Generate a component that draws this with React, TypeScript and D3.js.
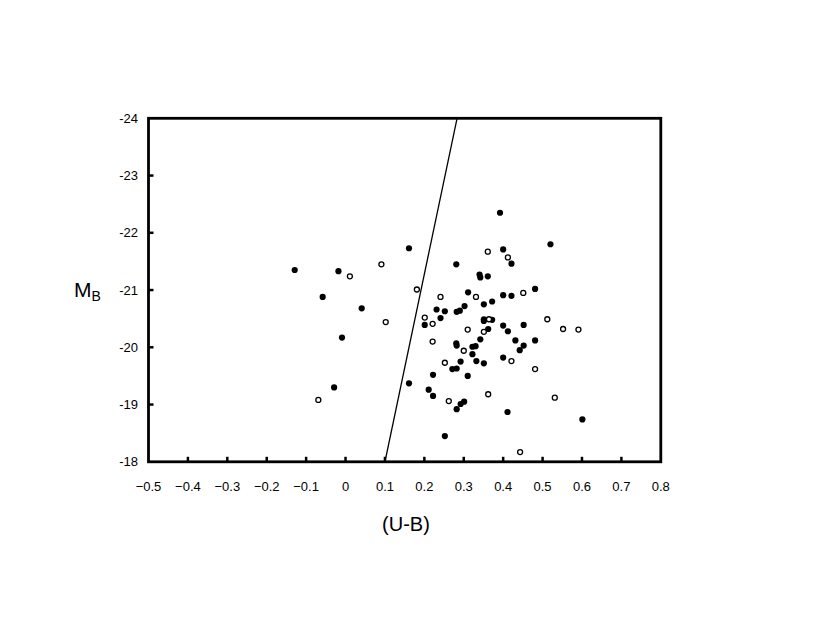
import React from "react";
import * as d3 from "d3";

const filledX = [-0.129, -0.018, -0.058, 0.041, -0.009, -0.029,
  0.161, 0.392, 0.400, 0.281, 0.340, 0.342, 0.361, 0.311, 0.400, 0.421, 0.520, 0.481, 0.421,
  0.372, 0.231, 0.252, 0.282, 0.290, 0.302, 0.351, 0.241, 0.201, 0.351, 0.351, 0.372, 0.362, 0.400,
  0.281, 0.282, 0.342, 0.330, 0.322, 0.322, 0.332, 0.351, 0.400, 0.292, 0.271, 0.282, 0.310, 0.222,
  0.161, 0.211, 0.222, 0.412, 0.452, 0.431, 0.481, 0.452, 0.442,
  0.301, 0.292, 0.282, 0.411, 0.601, 0.252];
const filledY = [-21.35, -21.33, -20.88, -20.68, -20.17, -19.30,
  -21.73, -22.35, -21.71, -21.45, -21.27, -21.22, -21.24, -20.96, -20.91, -21.46, -21.80, -21.02, -20.90,
  -20.80, -20.66, -20.63, -20.62, -20.64, -20.72, -20.75, -20.51, -20.39, -20.49, -20.46, -20.48, -20.32, -20.38,
  -20.07, -20.03, -20.14, -20.02, -20.01, -19.88, -19.76, -19.72, -19.82, -19.75, -19.62, -19.63, -19.50, -19.52,
  -19.37, -19.26, -19.15, -20.28, -20.39, -20.12, -20.12, -20.03, -19.95,
  -19.05, -19.01, -18.92, -18.87, -18.74, -18.45];

const openX = [0.011, 0.091, 0.102, -0.069,
  0.361, 0.181, 0.241, 0.331, 0.412, 0.451,
  0.201, 0.221, 0.364, 0.310, 0.351, 0.221, 0.300, 0.252, 0.362,
  0.512, 0.552, 0.591, 0.421, 0.481, 0.531, 0.262, 0.443];
const openY = [-21.24, -21.45, -20.44, -19.08,
  -21.67, -21.01, -20.88, -20.88, -21.57, -20.95,
  -20.52, -20.41, -20.49, -20.31, -20.27, -20.10, -19.94, -19.73, -19.18,
  -20.49, -20.32, -20.31, -19.76, -19.62, -19.12, -19.06, -18.17];

const lineX = [0.1, 0.283];
const lineY = [-18, -24];

const xTicks = [-0.5, -0.4, -0.3, -0.2, -0.1, 0, 0.1, 0.2, 0.3, 0.4, 0.5, 0.6, 0.7, 0.8];
const yTicks = [-24, -23, -22, -21, -20, -19, -18];

const FONT = "'Liberation Sans', Arial, sans-serif";

export default function App() {
  const left = 148.5, right = 660.8, top = 118.3, bottom = 461.8;
  const x = d3.scaleLinear().domain([-0.5, 0.8]).range([left, right]);
  const y = d3.scaleLinear().domain([-24, -18]).range([top, bottom]);
  const line = d3.line<number>().x((_, i) => x(lineX[i])).y((_, i) => y(lineY[i]));
  const fmtX = (v: number) => (Math.abs(v) < 1e-9 ? "0" : d3.format(".1f")(v));

  return (
    <svg width={830} height={642} style={{ position: "absolute", left: 0, top: 0, background: "#fff" }}>
      <rect x={0} y={0} width={830} height={642} fill="#fff" />
      {/* ticks */}
      {xTicks.slice(1, -1).map((t) => (
        <line key={"xt" + t} x1={x(t)} x2={x(t)} y1={bottom} y2={bottom - 5} stroke="#000" strokeWidth={2.5} />
      ))}
      {yTicks.slice(1, -1).map((t) => (
        <line key={"yt" + t} x1={left} x2={left + 5} y1={y(t)} y2={y(t)} stroke="#000" strokeWidth={2.5} />
      ))}
      {/* frame */}
      <rect x={left} y={top} width={right - left} height={bottom - top} fill="none" stroke="#000" strokeWidth={2.8} />
      {/* dividing line */}
      <path d={line(lineX) || ""} fill="none" stroke="#000" strokeWidth={1.3} />
      {/* points */}
      {filledX.map((v, i) => (
        <circle key={"f" + i} cx={x(v)} cy={y(filledY[i])} r={3.1} fill="#000" />
      ))}
      {openX.map((v, i) => (
        <circle key={"o" + i} cx={x(v)} cy={y(openY[i])} r={2.5} fill="#fff" stroke="#000" strokeWidth={1.3} />
      ))}
      {/* tick labels */}
      {xTicks.map((t) => (
        <text key={"xl" + t} x={x(t)} y={491} textAnchor="middle" fontFamily={FONT} fontSize={13} fill="#000">
          {fmtX(t)}
        </text>
      ))}
      {yTicks.map((t) => (
        <text key={"yl" + t} x={138} y={y(t) + 4.5} textAnchor="end" fontFamily={FONT} fontSize={13} fill="#000">
          {String(t)}
        </text>
      ))}
      {/* axis titles */}
      <text x={74} y={297} fontFamily={FONT} fontSize={21} fill="#000">
        M<tspan fontSize={14} dy={4}>B</tspan>
      </text>
      <text x={406} y={531} textAnchor="middle" fontFamily={FONT} fontSize={20} fill="#000">
        (U-B)
      </text>
    </svg>
  );
}
